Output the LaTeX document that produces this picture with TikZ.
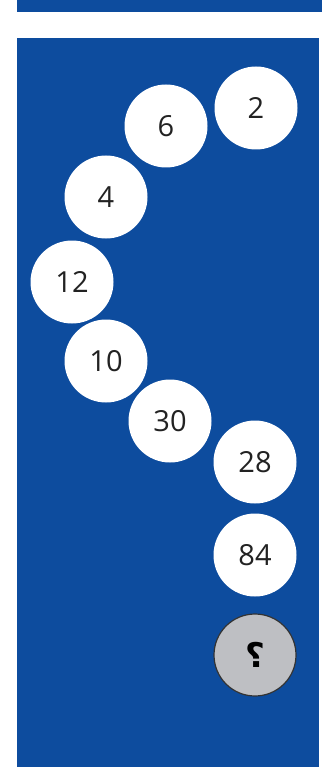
\documentclass[tikz,border=0pt]{standalone}
\usepackage{fontspec}
\setmainfont{Open Sans}
\newfontfamily\arabicfont[Script=Arabic]{DejaVu Sans}
\TeXXeTstate=1
\definecolor{bgblue}{HTML}{0D4C9E}
\definecolor{qgray}{HTML}{BEBFC3}
\definecolor{qborder}{HTML}{333333}
\definecolor{numtext}{HTML}{222222}
\begin{document}
\begin{tikzpicture}[x=1pt,y=-1pt,
  ball/.style={circle,fill=white,minimum size=83pt,inner sep=0pt,font=\fontsize{29}{29}\selectfont,text=numtext},
  qball/.style={circle,fill=qgray,draw=qborder,line width=1.2pt,minimum size=82pt,inner sep=0pt}]
\useasboundingbox (0,0) rectangle (330,767);
\fill[bgblue] (17,0) rectangle (322,12);
\fill[bgblue] (17,38) rectangle (319,767);
\node[ball] (n2) at (256,108) {2};
\node[ball] (n6) at (166,126) {6};
\node[ball] (n4) at (106,197) {4};
\node[ball] (n12) at (72,282) {12};
\node[ball] (n10) at (106,361) {10};
\node[ball] (n30) at (170,421) {30};
\node[ball] (n28) at (255,462) {28};
\node[ball] (n84) at (255,555) {84};
\node[qball] (nq) at (255,655) {\arabicfont\bfseries\fontsize{34}{34}\selectfont\beginR ؟\endR};
\end{tikzpicture}
\end{document}
